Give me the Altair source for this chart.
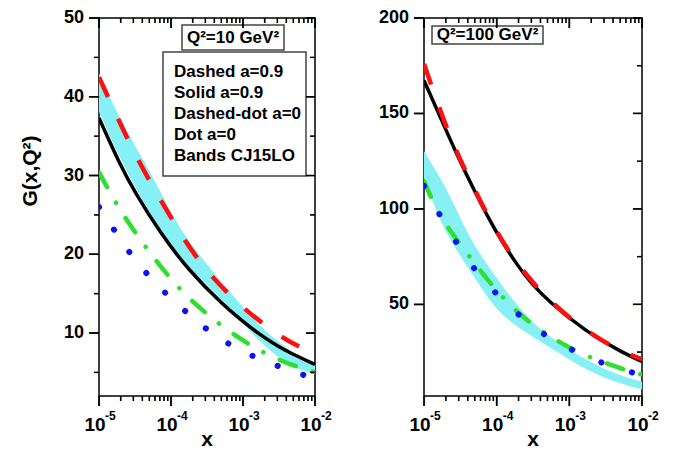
import altair as alt
import pandas as pd

FONT = "Liberation Sans"

# ---------------- data (x given as log10 of x) ----------------
# Left panel: Q^2 = 10 GeV^2
L_red_lx = [-5.0, -4.53, -4.12, -3.77, -3.44, -2.93, -2.39, -2.22]
L_red_y = [42.5, 33.0, 26.5, 21.1, 17.1, 12.5, 9.0, 8.3]
L_black_lx = [-5.0, -4.72, -4.5, -4.14, -3.77, -3.26, -3.03, -2.8, -2.5, -2.33, -2.0]
L_black_y = [37.3, 31.6, 27.8, 22.6, 18.1, 13.4, 11.7, 10.0, 8.2, 7.4, 6.0]
L_green_lx = [-5.0, -4.74, -4.42, -3.91, -3.39, -3.05, -2.72, -2.37, -2.0]
L_green_y = [30.4, 26.0, 21.7, 15.6, 11.5, 9.3, 7.5, 6.05, 5.0]
L_blue_lx = [-5.0, -4.79, -4.58, -4.33, -4.03, -3.72, -3.42, -3.10, -2.78, -2.45, -2.14, -2.0]
L_blue_y = [26.0, 23.1, 20.2, 17.4, 14.6, 12.1, 9.8, 8.1, 6.7, 5.6, 4.6, 4.25]
L_band_lx = [-5.0, -4.72, -4.35, -4.04, -3.76, -3.26, -2.8, -2.33, -2.0]
L_band_hi = [43.0, 37.3, 31.5, 26.0, 21.5, 16.1, 11.0, 7.5, 6.1]
L_band_lo = [38.1, 32.3, 26.0, 21.5, 18.3, 14.0, 9.0, 5.6, 4.8]

# Right panel: Q^2 = 100 GeV^2
R_red_lx = [-5.0, -4.77, -4.56, -4.31, -4.03, -3.71, -3.30, -2.77, -2.26, -2.0]
R_red_y = [175.9, 150.5, 130.3, 110.5, 89.5, 70.5, 52.5, 35.6, 24.9, 21.3]
R_black_lx = [-5.0, -4.77, -4.56, -4.31, -4.03, -3.71, -3.53, -3.30, -2.77, -2.26, -2.0]
R_black_y = [167.3, 147.5, 129.5, 109.6, 89.0, 70.0, 61.4, 52.0, 35.6, 24.5, 20.1]
R_green_lx = [-5.0, -4.81, -4.63, -4.31, -3.99, -3.6, -3.28, -3.12, -2.70, -2.43, -2.15, -2.0]
R_green_y = [114.5, 98.0, 88.0, 71.8, 56.3, 41.5, 34.0, 29.6, 21.8, 18.4, 14.6, 13.2]
R_blue_lx = [-5.0, -4.81, -4.58, -4.33, -4.03, -3.66, -3.28, -2.92, -2.55, -2.19, -2.0]
R_blue_y = [112.0, 98.5, 83.8, 69.2, 56.3, 43.0, 32.1, 25.3, 19.2, 14.8, 13.0]
R_band_lx = [-5.0, -4.85, -4.70, -4.40, -4.26, -3.96, -3.57, -3.21, -2.75, -2.29, -2.0]
R_band_hi = [130.3, 121.0, 111.5, 87.2, 78.0, 61.4, 42.0, 31.4, 20.1, 12.4, 9.5]
R_band_lo = [116.0, 101.0, 87.2, 69.5, 61.4, 44.5, 34.5, 26.2, 15.1, 8.2, 5.5]

# axis ticks / labels
X_MAJOR = [1e-5, 1e-4, 1e-3, 1e-2]
X_MINOR = [k * 10.0 ** e for e in (-5, -4, -3) for k in range(2, 10)]
X_BASE = ["10", "10", "10", "10"]
X_EXP = ["-5", "-4", "-3", "-2"]
L_Y_MAJOR = [10, 20, 30, 40, 50]
L_Y_MINOR = [5, 15, 25, 35, 45]
R_Y_MAJOR = [50, 100, 150, 200]
R_Y_MINOR = [25, 75, 125, 175]
X_TITLE = "x"
Y_TITLE = "G(x,Q²)"

L_BOX1 = ["Q²=10 GeV²"]
L_BOX2 = ["Dashed a=0.9", "Solid a=0.9", "Dashed-dot a=0", "Dot a=0", "Bands CJ15LO"]
R_BOX1 = ["Q²=100 GeV²"]

RED, BLACK, GREEN, BLUE, CYAN = "#ff1010", "#000000", "#2ee02e", "#0a14f0", "#86f0f5"
INTERP = "basis"
BAR_TOP, BAR_BOT = 0.728, 0.21  # extent of the "|" glyph above / below the baseline (em)


def df(lx, ys):
    return pd.DataFrame({"x": [10.0 ** v for v in lx], "y": ys})


def band_df(lx, hi, lo):
    return pd.DataFrame({"x": [10.0 ** v for v in lx], "hi": hi, "lo": lo})


def txt(text, x, y, size, align="center", baseline="middle", angle=0):
    kw = dict(font=FONT, fontSize=size, fontWeight="bold", color="black", align=align,
              baseline=baseline)
    if angle:
        kw["angle"] = angle
    return alt.Chart(pd.DataFrame({"t": [text]})).mark_text(**kw).encode(
        x=alt.value(x), y=alt.value(y), text="t:N")


def panel(W, H, ydom, ymaj, ymin, left_minor, band, red, black, green, blue,
          dot_gap, ytitle, box1, box1_txt, box2=None, box2_txt=None):
    xs = alt.Scale(type="log", domain=[1e-5, 1e-2], nice=False)
    ys = alt.Scale(domain=ydom, nice=False, zero=False)

    band_layer = alt.Chart(band).mark_area(color=CYAN, opacity=1, clip=True,
                                           interpolate=INTERP).encode(
        x=alt.X("x:Q", scale=xs, axis=None),
        y=alt.Y("hi:Q", scale=ys, axis=None),
        y2="lo:Q",
    )

    def line(d, color, width, **kw):
        return alt.Chart(d).mark_line(color=color, strokeWidth=width, interpolate=INTERP,
                                      clip=True, **kw).encode(
            x=alt.X("x:Q", scale=xs, axis=None), y=alt.Y("y:Q", scale=ys, axis=None))

    black_layer = line(black, BLACK, 3.5)
    red_layer = line(red, RED, 4.5, strokeDash=[22, 24])
    green_layer = line(green, GREEN, 4.5, strokeDash=[17, 18, 0.1, 18], strokeCap="round")
    blue_layer = line(blue, BLUE, 6, strokeDash=[0.1, dot_gap], strokeCap="round")

    # tick marks: "|" glyphs (vertical) and rotated "|" glyphs (horizontal),
    # positioned through the scales, plus rules at the same places
    def xticks(vals, y0, y1):
        d = pd.DataFrame({"v": vals, "t": ["|"] * len(vals)})
        fs = (y1 - y0) / (BAR_TOP + BAR_BOT)
        glyph = alt.Chart(d).mark_text(font=FONT, fontSize=fs, fontWeight="bold", color="black",
                                       align="center", baseline="alphabetic").encode(
            x=alt.X("v:Q", scale=xs, axis=None), y=alt.value(y0 + BAR_TOP * fs), text="t:N")
        rule = alt.Chart(d).mark_rule(color="black", strokeWidth=1.5).encode(
            x=alt.X("v:Q", scale=xs, axis=None), y=alt.value(y0), y2=alt.value(y1))
        return [rule, glyph]

    def yticks(vals, x0, x1):
        d = pd.DataFrame({"v": vals, "t": ["|"] * len(vals)})
        fs = (x1 - x0) / (BAR_TOP + BAR_BOT)
        glyph = alt.Chart(d).mark_text(font=FONT, fontSize=fs, fontWeight="bold", color="black",
                                       align="center", baseline="alphabetic", angle=90).encode(
            y=alt.Y("v:Q", scale=ys, axis=None), x=alt.value(x0 + BAR_BOT * fs), text="t:N")
        rule = alt.Chart(d).mark_rule(color="black", strokeWidth=1.5).encode(
            y=alt.Y("v:Q", scale=ys, axis=None), x=alt.value(x0), x2=alt.value(x1))
        return [rule, glyph]

    tick_layers = (xticks(X_MAJOR, H, H + 10) + xticks(X_MINOR, H, H + 5)
                   + xticks(X_MAJOR, 0, 10) + xticks(X_MINOR, 0, 5)
                   + yticks(ymaj, -10, 0) + yticks(ymaj, W - 9, W) + yticks(ymin, W - 5, W))
    if left_minor:
        tick_layers += yticks(ymin, -5, 0)

    # tick labels
    lab = pd.DataFrame({"x": X_MAJOR, "base": X_BASE, "exp": X_EXP})
    base_txt = alt.Chart(lab).mark_text(
        font=FONT, fontSize=19, fontWeight="bold", color="black", align="center",
        baseline="alphabetic", dx=-4).encode(
        x=alt.X("x:Q", scale=xs, axis=None), y=alt.value(H + 35), text="base:N")
    exp_txt = alt.Chart(lab).mark_text(
        font=FONT, fontSize=12, fontWeight="bold", color="black", align="left",
        baseline="alphabetic", dx=6).encode(
        x=alt.X("x:Q", scale=xs, axis=None), y=alt.value(H + 24), text="exp:N")
    ylab = pd.DataFrame({"v": ymaj, "t": [str(v) for v in ymaj]})
    ylab_txt = alt.Chart(ylab).mark_text(
        font=FONT, fontSize=18, fontWeight="bold", color="black", align="right",
        baseline="middle").encode(
        y=alt.Y("v:Q", scale=ys, axis=None), x=alt.value(-15), text="t:N")

    layers = ([band_layer, black_layer, red_layer, green_layer, blue_layer]
              + [base_txt, exp_txt, ylab_txt, txt(X_TITLE, W / 2, H + 50, 21, baseline="alphabetic")])
    if ytitle:
        layers.append(txt(ytitle, -68, 153, 21, angle=270))

    one = pd.DataFrame({"a": [0]})
    bx = box1
    layers.append(alt.Chart(one).mark_rect(fill="white", stroke="#444444", strokeWidth=1.5).encode(
        x=alt.value(bx[0]), x2=alt.value(bx[1]), y=alt.value(bx[2]), y2=alt.value(bx[3])))
    layers.append(txt(box1_txt[0], (bx[0] + bx[1]) / 2, (bx[2] + bx[3]) / 2, 17))

    if box2 is not None:
        bx = box2
        layers.append(alt.Chart(one).mark_rect(fill="white", stroke="#444444", strokeWidth=1.5).encode(
            x=alt.value(bx[0]), x2=alt.value(bx[1]), y=alt.value(bx[2]), y2=alt.value(bx[3])))
        cy = (bx[2] + bx[3]) / 2
        for i, t in enumerate(box2_txt):
            layers.append(txt(t, bx[0] + 11, cy + (i - 2) * 21, 17, align="left"))

    layers += tick_layers
    return alt.layer(*layers).properties(width=W, height=H)


H = 378
left = panel(216, H, [2, 50], L_Y_MAJOR, L_Y_MINOR, True,
             band_df(L_band_lx, L_band_hi, L_band_lo), df(L_red_lx, L_red_y),
             df(L_black_lx, L_black_y), df(L_green_lx, L_green_y), df(L_blue_lx, L_blue_y),
             27, Y_TITLE, (83, 185, 7, 32), L_BOX1, (64, 207, 34, 158), L_BOX2)
right = panel(218, H, [2, 200], R_Y_MAJOR, R_Y_MINOR, False,
              band_df(R_band_lx, R_band_hi, R_band_lo), df(R_red_lx, R_red_y),
              df(R_black_lx, R_black_y), df(R_green_lx, R_green_y), df(R_blue_lx, R_blue_y),
              32, None, (8, 119, 8, 26), R_BOX1)

chart = alt.hconcat(left, right, spacing=109, bounds="flush").properties(
    padding={"left": 11, "top": 0, "right": 5, "bottom": 0}
).configure(font=FONT).configure_view(stroke="black", strokeWidth=1.5)

chart.save("out.html", embed_options={"renderer": "svg", "actions": False})
